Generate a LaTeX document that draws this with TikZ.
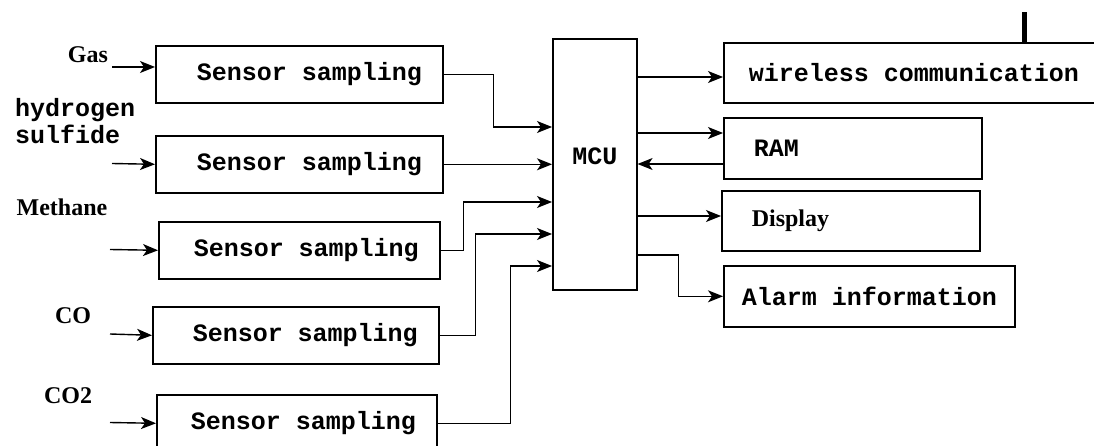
\documentclass[tikz,border=0pt]{standalone}
\usepackage{fontspec}
\setmainfont{Liberation Serif}
\setmonofont{Liberation Mono}
\usetikzlibrary{arrows.meta}
\newcommand{\monofont}{\fontsize{25}{27}\selectfont\ttfamily\bfseries}
\newcommand{\gap}{\hspace*{15pt}}
\tikzset{
  blk/.style={rectangle, draw=black, line width=1.6pt, inner ysep=0pt, font=\monofont},
  sensor/.style={blk, anchor=north west, minimum height=57pt, inner xsep=21pt, align=right},
  outbox/.style={blk, anchor=north west, minimum height=60pt, align=left},
  lbl/.style={font=\fontsize{24}{26}\selectfont\rmfamily\bfseries},
  monolbl/.style={font=\monofont, align=left, inner sep=0pt},
  flow/.style={-{Stealth[length=15pt,width=12pt,inset=4pt]}, line width=1.4pt}
}
\begin{document}
\begin{tikzpicture}[x=1pt, y=-1pt]
  \useasboundingbox (0,0) rectangle (1094,446);
  \clip (0,0) rectangle (1094,446);

  % sensor chain
  \node[sensor, text width=245pt] (s1) at (155,45) {Sensor\gap sampling};
  \node[sensor, text width=245pt] (s2) at (155,135) {Sensor\gap sampling};
  \node[sensor, text width=239pt] (s3) at (158,221) {Sensor\gap sampling};
  \node[sensor, text width=244pt] (s4) at (152,306) {Sensor\gap sampling};
  \node[sensor, text width=238pt] (s5) at (156,394) {Sensor\gap sampling};

  \node[lbl] (gas) at (88,55) {Gas};
  \node[monolbl, anchor=west] (h2s) at (15,121) {hydrogen\\sulfide};
  \node[lbl] (ch4) at (62,207) {Methane};
  \node[lbl] (co) at (73,316) {CO};
  \node[lbl] (co2) at (68,396) {CO2};

  \coordinate (src1) at (112,67);
  \coordinate (src2) at (112,163.5);
  \coordinate (src3) at (110,249.5);
  \coordinate (src4) at (110,334);
  \coordinate (src5) at (110,422.5);
  \draw[flow] (src1) -- (src1 -| s1.west);
  \foreach \i in {2,...,5}
    \draw[flow] (src\i) -- (s\i.west);

  % controller
  \node[blk, anchor=north west, minimum width=84pt, minimum height=251pt,
        text height=0pt, text depth=0pt] (mcu) at (552,38) {MCU};

  \draw[flow] (s1.east) -- ++(50,0) |- (mcu.west |- 0,127);
  \draw[flow] (s2.east) -- (mcu.west |- s2.east);
  \draw[flow] (s3.east) -- ++(23,0) |- (mcu.west |- 0,202);
  \draw[flow] (s4.east) -- ++(36,0) |- (mcu.west |- 0,234);
  \draw[flow] (s5.east) -- ++(73,0) |- (mcu.west |- 0,266);

  % outputs
  \node[outbox, text width=345pt, inner xsep=25pt] (wl) at (723,42) {wireless\gap communication};
  \node[outbox, text width=198pt, inner xsep=30pt, minimum height=61pt] (ram) at (723,117) {RAM};
  \node[outbox, text width=198pt, inner xsep=30pt, font=\fontsize{24}{26}\selectfont\rmfamily\bfseries] (disp) at (721,190) {Display};
  \node[outbox, text width=261pt, inner xsep=15pt, minimum height=61pt, align=center] (alarm) at (723,265) {Alarm\gap information};

  \draw[flow] (mcu.east |- 0,77) -- (wl.west |- 0,77);
  \draw[flow] (mcu.east |- 0,133) -- (ram.west |- 0,133);
  \draw[flow] (ram.west |- 0,164) -- (mcu.east |- 0,164);
  \draw[flow] (mcu.east |- 0,216) -- (disp.west |- 0,216);
  \draw[flow] (mcu.east |- 0,255) -- ++(41,0) |- (alarm.west);

  \draw[line width=5pt] (wl.north -| 1024,0) -- ++(0,-30);
\end{tikzpicture}
\end{document}
